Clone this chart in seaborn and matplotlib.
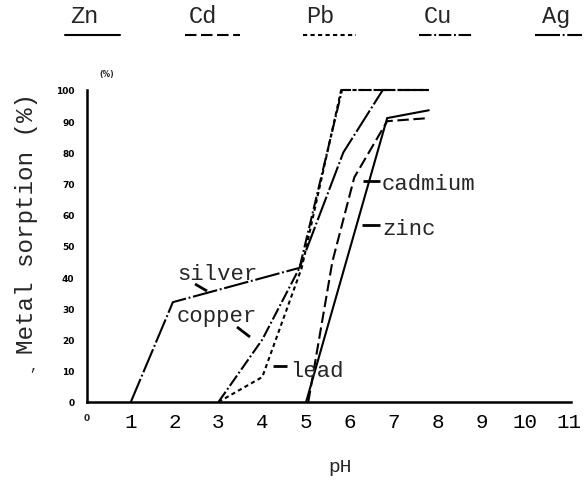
import matplotlib
matplotlib.use("Agg")
import matplotlib.pyplot as plt
from matplotlib.lines import Line2D
import seaborn as sns
import pandas as pd

# ---- data ----
zinc_ph = [5.0, 6.85, 7.8]
zinc_pct = [0, 91, 93.5]
cadmium_ph = [5.05, 5.6, 6.1, 6.85, 7.8]
cadmium_pct = [0, 45, 72, 90, 91]
lead_ph = [3.0, 4.0, 4.9, 5.8, 7.8]
lead_pct = [0, 8, 43, 100, 100]
copper_ph = [3.0, 4.0, 4.85, 5.82, 7.8]
copper_pct = [0, 20, 43, 100, 100]
silver_ph = [1.0, 1.96, 4.85, 5.85, 6.75, 7.8]
silver_pct = [0, 32, 43, 80, 100, 100]

metals = ["Zn", "Cd", "Pb", "Cu", "Ag"]
curve_names = ["zinc", "cadmium", "lead", "copper", "silver"]
x_ticks = list(range(1, 12))
y_ticks = list(range(0, 101, 10))

frames = []
for name, xs, ys in [("zinc", zinc_ph, zinc_pct), ("cadmium", cadmium_ph, cadmium_pct),
                     ("lead", lead_ph, lead_pct), ("copper", copper_ph, copper_pct),
                     ("silver", silver_ph, silver_pct)]:
    frames.append(pd.DataFrame({"pH": xs, "pct": ys, "metal": name}))
df = pd.concat(frames, ignore_index=True)

dash_map = {"zinc": "", "cadmium": (5.5, 2.2), "lead": (2.0, 1.6),
            "copper": (6, 1.3, 0.9, 1.3), "silver": (12, 1.3, 0.9, 1.3)}

sns.set_style("white")
mono = "Liberation Mono"
plt.rcParams["font.family"] = [mono, "DejaVu Sans"]

W, H = 584, 481
fig = plt.figure(figsize=(W / 100, H / 100), dpi=100)

px_unit = 43.82
x0_px, y0_px, y100_px = 87, 403, 91
xmax = 11.05
ax = fig.add_axes([x0_px / W, (H - y0_px) / H, xmax * px_unit / W, (y0_px - y100_px) / H])

sns.lineplot(data=df, x="pH", y="pct", hue="metal", style="metal",
             palette={n: "black" for n in curve_names}, dashes=dash_map,
             estimator=None, sort=False, linewidth=1.5, legend=False, ax=ax)
for ln in ax.lines:
    ln.set_clip_on(False)

ax.set_xlim(0, xmax)
ax.set_ylim(0, 100)
for s in ["top", "right"]:
    ax.spines[s].set_visible(False)
for s in ["left", "bottom"]:
    ax.spines[s].set_linewidth(1.8)
    ax.spines[s].set_color("black")

ax.set_xticks(x_ticks)
ax.set_xticklabels([str(t) for t in x_ticks], fontsize=15, family=mono)
ax.set_yticks(y_ticks)
ax.set_yticklabels([str(t) for t in y_ticks], fontsize=6.5, fontweight="bold",
                   family="DejaVu Sans")
ax.tick_params(axis="x", direction="in", length=4, width=1.2, pad=7, colors="black")
ax.tick_params(axis="y", direction="in", length=4, width=1.2, pad=9, colors="black")
ax.set_xlabel("")
ax.set_ylabel("")

# origin "0" and "(%)"
ax.text(0, -3.5, "0", ha="center", va="top", fontsize=6.5, fontweight="bold",
        family="DejaVu Sans", clip_on=False)
ax.text(0.45, 104, "(%)", ha="center", va="bottom", fontsize=5.5, fontweight="bold",
        family="DejaVu Sans", clip_on=False)

# axis titles
fig.text(340 / W, 1 - 468 / H, "pH", ha="center", va="center", fontsize=14, family=mono)
fig.text(27 / W, 1 - 224 / H, "Metal sorption (%)", ha="center", va="center",
         rotation=90, fontsize=17.5, family=mono)
fig.text(33 / W, 1 - 366 / H, ",", ha="center", va="center", fontsize=10, family=mono)

# curve labels with pointer marks
def px2d(px, py):
    return (px - x0_px) / px_unit, (y0_px - py) / ((y0_px - y100_px) / 100)

labels = [("silver", 177, 280), ("copper", 177, 322), ("lead", 290, 377),
          ("cadmium", 382, 190), ("zinc", 382, 235)]
for txt, px, py in labels:
    x, y = px2d(px, py)
    ax.text(x, y, txt, ha="left", va="baseline", fontsize=16, family=mono, clip_on=False)

pointers = [((195, 285), (207, 292)), ((237, 328), (250, 338)), ((273, 367), (287, 367)),
            ((363, 182), (380, 182)), ((362, 226), (380, 226))]
for (a, b) in pointers:
    xa, ya = px2d(*a)
    xb, yb = px2d(*b)
    ax.plot([xa, xb], [ya, yb], color="black", lw=2.0, solid_capstyle="butt", clip_on=False)

# top legend: symbols with underlines in each line style
legend_items = [("Zn", 84, 65, 120, "zinc"), ("Cd", 203, 185, 240, "cadmium"),
                ("Pb", 320, 303, 356, "lead"), ("Cu", 438, 419, 472, "copper"),
                ("Ag", 556, 535, 582, "silver")]
for sym, cx, x1, x2, name in legend_items:
    fig.text(cx / W, 1 - 23 / H, sym, ha="center", va="baseline", fontsize=17, family=mono)
    d = dash_map[name]
    ln = Line2D([x1 / W, x2 / W], [1 - 36 / H, 1 - 36 / H], transform=fig.transFigure,
                color="black", lw=1.5)
    if d:
        ln.set_dashes(d)
    fig.add_artist(ln)

fig.savefig("out.png", dpi=100, facecolor="white")
